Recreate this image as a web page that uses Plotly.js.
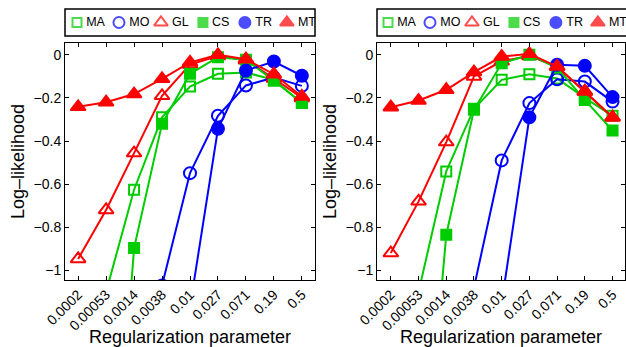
<!DOCTYPE html>
<html><head><meta charset="utf-8">
<script src="https://cdn.plot.ly/plotly-3.0.1.min.js"></script>
<style>html,body{margin:0;padding:0;background:#fff}#plot{width:626px;height:347px}</style>
</head><body><div id="plot"></div>
<script>
const lambdas = ["0.0002","0.00053","0.0014","0.0038","0.01","0.027","0.071","0.19","0.5"];
const seriesNames = ["MA","MO","GL","CS","TR","MT"];
// Left panel
const MA_L = [-1.6, -1.1, -0.626, -0.29, -0.147, -0.088, -0.082, -0.116, -0.224];
const MO_L = [-2.2, -1.9, -1.5, -1.07, -0.549, -0.283, -0.142, -0.105, -0.144];
const GL_L = [-0.947, -0.72, -0.456, -0.19, -0.045, -0.005, -0.025, -0.11, -0.2];
const CS_L = [-3.5, -2.6, -0.897, -0.32, -0.088, -0.011, -0.023, -0.12, -0.222];
const TR_L = [-2.5, -2.1, -1.7, -1.4, -1.17, -0.343, -0.073, -0.031, -0.097];
const MT_L = [-0.241, -0.22, -0.182, -0.111, -0.035, 0.0, -0.02, -0.09, -0.193];
// Right panel
const MA_R = [-2.0, -1.1, -0.541, -0.25, -0.116, -0.09, -0.11, -0.2, -0.283];
const MO_R = [-2.2, -1.9, -1.5, -1.08, -0.49, -0.224, -0.113, -0.124, -0.217];
const GL_R = [-0.92, -0.68, -0.405, -0.1, -0.03, -0.005, -0.055, -0.17, -0.29];
const CS_R = [-3.5, -2.3, -0.835, -0.255, -0.039, 0.0, -0.06, -0.209, -0.351];
const TR_R = [-2.5, -2.1, -1.7, -1.4, -1.15, -0.29, -0.046, -0.051, -0.196];
const MT_R = [-0.243, -0.212, -0.162, -0.08, -0.008, 0.005, -0.054, -0.17, -0.29];

const GREEN = "rgb(0,204,0)", BLUE = "rgb(0,0,255)", RED = "rgb(255,0,0)";
const styles = {
  MA: {color: GREEN, symbol: "square-open", size: 10},
  MO: {color: BLUE, symbol: "circle-open", size: 12},
  GL: {color: RED, symbol: "triangle-up-open", size: 13},
  CS: {color: GREEN, symbol: "square", size: 10},
  TR: {color: BLUE, symbol: "circle", size: 12},
  MT: {color: RED, symbol: "triangle-up", size: 13}
};
const FONT = "Liberation Sans, Arial, Helvetica, sans-serif";

function panel(vals, xa, ya) {
  return seriesNames.map((n, i) => ({
    type: "scatter", mode: "lines+markers", name: n, showlegend: false,
    x: lambdas, y: vals[i], xaxis: xa, yaxis: ya,
    line: {color: styles[n].color, width: 2},
    marker: {symbol: styles[n].symbol, size: styles[n].size, color: styles[n].color,
             line: {color: styles[n].color, width: 2}}
  }));
}
function legendTrace(xa, ya) {
  return {
    type: "scatter", mode: "markers+text", showlegend: false, hoverinfo: "skip",
    x: seriesNames.map((n, i) => i), y: seriesNames.map(() => 0),
    text: seriesNames.map(n => "\u2009" + n), textposition: "middle right",
    textfont: {family: FONT, size: 12.5, color: "#000"},
    xaxis: xa, yaxis: ya,
    marker: {symbol: seriesNames.map(n => styles[n].symbol),
             size: seriesNames.map(n => styles[n].size - 1),
             color: seriesNames.map(n => styles[n].color),
             line: {color: seriesNames.map(n => styles[n].color), width: 2}}
  };
}
const data = [
  ...panel([MA_L, MO_L, GL_L, CS_L, TR_L, MT_L], "x", "y"),
  ...panel([MA_R, MO_R, GL_R, CS_R, TR_R, MT_R], "x2", "y2"),
  legendTrace("x3", "y3"), legendTrace("x4", "y4")
];

const W = 626, H = 347;
const yTop = 1 - 43 / H, yBot = 1 - 280 / H;
function xax(d0, d1, range, anchor) {
  return {
    domain: [d0 / W, d1 / W], anchor: anchor, type: "category",
    categoryorder: "array", categoryarray: lambdas, range: range,
    showline: true, linecolor: "#000", linewidth: 1, mirror: "allticks",
    ticks: "inside", ticklen: 4, tickcolor: "#000", tickangle: -45,
    showgrid: false, zeroline: false,
    tickfont: {family: FONT, size: 14, color: "#000"},
    title: {text: "Regularization parameter", font: {family: FONT, size: 18, color: "#000"}, standoff: 9}
  };
}
function yax(anchor) {
  return {
    domain: [yBot, yTop], anchor: anchor, range: [-1.045, 0.055],
    tickvals: [-1, -0.8, -0.6, -0.4, -0.2, 0],
    showline: true, linecolor: "#000", linewidth: 1, mirror: "allticks",
    ticks: "inside", ticklen: 4, tickcolor: "#000",
    showgrid: false, zeroline: false,
    tickfont: {family: FONT, size: 14, color: "#000"},
    title: {text: "Log\u2013likelihood", font: {family: FONT, size: 18, color: "#000"}, standoff: 4}
  };
}
const legY0 = 1 - 36 / H, legY1 = 1 - 9 / H;
function legAx(d0, d1, anchor) {
  return {domain: [d0 / W, d1 / W], anchor: anchor, range: [-0.286, 5.67],
          visible: false, fixedrange: true};
}
function legYAx(anchor) {
  return {domain: [legY0, legY1], anchor: anchor, range: [-1, 1], visible: false, fixedrange: true};
}
const layout = {
  width: W, height: H, margin: {l: 0, r: 0, t: 0, b: 0},
  paper_bgcolor: "#fff", plot_bgcolor: "#fff", showlegend: false,
  font: {family: FONT, color: "#000"},
  xaxis: xax(65, 315, [-0.47, 8.47], "y"),
  yaxis: yax("x"),
  xaxis2: xax(377, 625, [-0.5, 8.45], "y2"),
  yaxis2: yax("x2"),
  xaxis3: legAx(65, 315, "y3"), yaxis3: legYAx("x3"),
  xaxis4: legAx(376, 626, "y4"), yaxis4: legYAx("x4"),
  shapes: [
    {type: "rect", xref: "paper", yref: "paper", x0: 65 / W, x1: 315 / W, y0: legY0, y1: legY1,
     line: {color: "#000", width: 1.5}, fillcolor: "rgba(0,0,0,0)"},
    {type: "rect", xref: "paper", yref: "paper", x0: 377 / W, x1: 628 / W, y0: legY0, y1: legY1,
     line: {color: "#000", width: 1.5}, fillcolor: "rgba(0,0,0,0)"}
  ]
};
Plotly.newPlot("plot", data, layout, {displayModeBar: false, staticPlot: true});
</script></body></html>
